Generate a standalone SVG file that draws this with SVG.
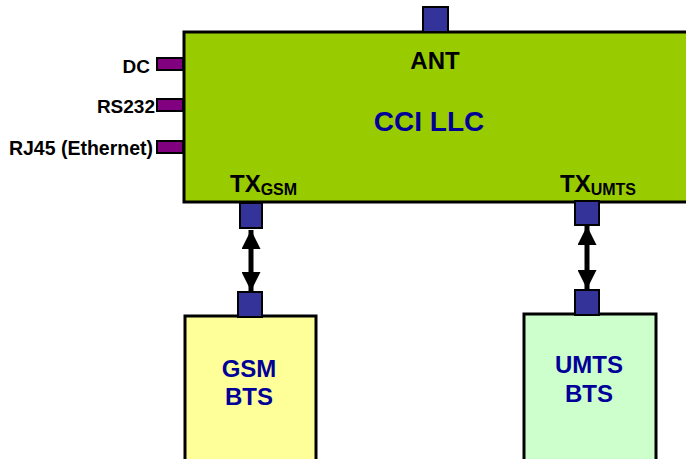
<svg xmlns="http://www.w3.org/2000/svg" width="686" height="459" viewBox="0 0 686 459">
<style>
.lbl{font-family:"Liberation Sans",Arial,sans-serif;font-weight:bold;fill:#000}
.blue{font-family:"Liberation Sans",Arial,sans-serif;font-weight:bold;fill:#000099}
.port{fill:#333399;stroke:#000;stroke-width:2}
.pport{fill:#800080;stroke:#000;stroke-width:2}
.box{stroke:#000;stroke-width:3}
</style>
<defs>
<marker id="ah" viewBox="0 0 10 10" refX="10" refY="5" markerWidth="3.8" markerHeight="3.8" orient="auto-start-reverse" markerUnits="strokeWidth">
<path d="M0,0 L10,5 L0,10 z" fill="#000"/>
</marker>
</defs>
<rect width="686" height="459" fill="#fff"/>
<g id="cci">
<rect class="box" x="184" y="32" width="510" height="170" fill="#99cc00"/>
<rect class="port" x="423" y="7" width="25" height="25"/>
<rect class="pport" x="157" y="58" width="26" height="12"/>
<rect class="pport" x="157" y="99" width="26" height="12"/>
<rect class="pport" x="157" y="141" width="26" height="12"/>
<text class="lbl" x="435" y="69" font-size="24" text-anchor="middle">ANT</text>
<text class="blue" x="429" y="131" font-size="28" text-anchor="middle" fill="#0000bb">CCI LLC</text>
<text class="lbl" x="150" y="73" font-size="19" text-anchor="end">DC</text>
<text class="lbl" x="155" y="113" font-size="19" text-anchor="end">RS232</text>
<text class="lbl" x="153" y="155" font-size="19.5" text-anchor="end">RJ45 (Ethernet)</text>
<text class="lbl" x="230" y="192" font-size="24">TX<tspan font-size="16" dy="3">GSM</tspan></text>
<text class="lbl" x="560" y="192" font-size="24">TX<tspan font-size="16" dy="3">UMTS</tspan></text>
<rect class="port" x="240" y="203" width="22" height="25"/>
<rect class="port" x="575" y="201" width="24" height="24"/>
</g>
<g id="gsm">
<rect class="box" x="185" y="316" width="131" height="160" fill="#ffff99"/>
<rect class="port" x="238" y="292" width="24" height="25"/>
<text class="blue" x="249" y="377" font-size="24" text-anchor="middle">GSM</text>
<text class="blue" x="249" y="405" font-size="24" text-anchor="middle">BTS</text>
</g>
<g id="umts">
<rect class="box" x="524" y="314" width="132" height="160" fill="#ccffcc"/>
<rect class="port" x="575" y="290" width="24" height="25"/>
<text class="blue" x="589" y="373" font-size="24" text-anchor="middle">UMTS</text>
<text class="blue" x="589" y="402" font-size="24" text-anchor="middle">BTS</text>
</g>
<g id="connectors" stroke="#000" stroke-width="5" fill="none">
<line x1="251" y1="230" x2="251" y2="291" marker-start="url(#ah)" marker-end="url(#ah)"/>
<line x1="587" y1="226" x2="587" y2="289" marker-start="url(#ah)" marker-end="url(#ah)"/>
</g>
</svg>
